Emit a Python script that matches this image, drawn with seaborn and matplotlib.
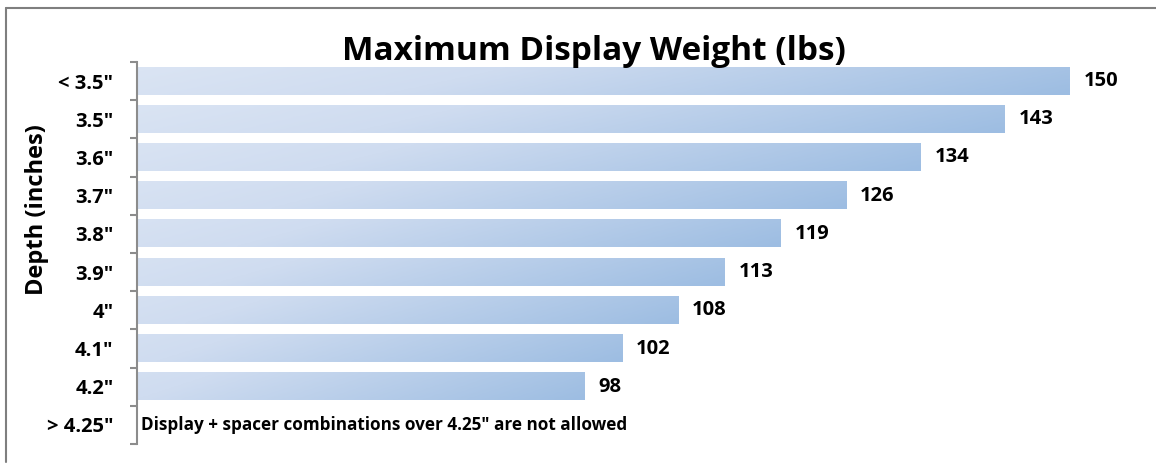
import matplotlib.pyplot as plt
import matplotlib.colors as mcolors
from matplotlib.lines import Line2D
import numpy as np
import pandas as pd
import seaborn as sns

depths = ['< 3.5"', '3.5"', '3.6"', '3.7"', '3.8"', '3.9"', '4"', '4.1"', '4.2"', '> 4.25"']
weights = [150, 143, 134, 126, 119, 113, 108, 102, 98]
note = 'Display + spacer combinations over 4.25" are not allowed'

df = pd.DataFrame({'Depth': depths[:len(weights)], 'Weight': weights})

sns.set_style('white')
plt.rcParams['font.family'] = ['Open Sans', 'DejaVu Sans']
plt.rcParams['font.weight'] = 'bold'

fig = plt.figure(figsize=(11.56, 4.66), dpi=100)
ax = fig.add_axes([137 / 1156, 22 / 466, 1003 / 1156, 382 / 466])

sns.barplot(data=df, y='Depth', x='Weight', order=depths, orient='h',
            width=0.71, color='#c5d6ee', ax=ax)

# gradient fill per bar (light on the left, darker toward the bar end)
cmap = mcolors.LinearSegmentedColormap.from_list(
    'g', [(0, '#e9eff8'), (0.55, '#cfdcf0'), (1, '#9dbde2')])
gx = np.linspace(0, 1, 256)
gy = np.linspace(0, 1, 16)
grad = 0.92 * gx[None, :] + 0.08 * gy[:, None]
for p in ax.patches:
    x0, y0 = p.get_x(), p.get_y()
    w, h = p.get_width(), p.get_height()
    if not np.isfinite(w) or w <= 0:
        continue
    ax.imshow(grad, cmap=cmap, extent=[x0, x0 + w, y0 + h, y0], aspect='auto',
              interpolation='bilinear', zorder=2)
    p.set_visible(False)
    ax.annotate(f'{int(round(w))}', xy=(x0 + w, y0 + h / 2), xytext=(10, 0),
                textcoords='offset points', ha='left', va='center',
                fontsize=14.5, fontweight='bold', color='black')

ax.set_xlim(50, 50 + 1003 / 9.33)
ax.set_ylim(len(depths) - 0.5, -0.5)

ax.annotate(note, xy=(50, len(depths) - 1), xytext=(3, 0), textcoords='offset points',
            ha='left', va='center', fontsize=12.3, fontweight='bold', color='black')

for s in ['top', 'right', 'bottom']:
    ax.spines[s].set_visible(False)
ax.spines['left'].set_color('#8c8c8c')
ax.spines['left'].set_linewidth(1.5)
ax.set_xticks([])
ax.set_yticks(np.arange(-0.5, len(depths), 1), minor=True)
ax.tick_params(axis='y', which='minor', length=5, width=1.5, color='#8c8c8c', left=True)
ax.tick_params(axis='y', which='major', length=0, pad=17, labelsize=14.5, labelcolor='black')
for lbl in ax.get_yticklabels():
    lbl.set_fontweight('bold')
ax.set_xlabel('')
ax.set_ylabel('')

fig.text(37 / 1156, 256 / 466, 'Depth (inches)', rotation=90, ha='center', va='center',
         fontsize=17, fontweight='bold', color='black')
fig.text(594 / 1156, 414 / 466, 'Maximum Display Weight (lbs)', ha='center', va='center',
         fontsize=24, fontweight='bold', color='black')

# partial chart border
fig.add_artist(Line2D([6 / 1156, 6 / 1156], [4 / 466, 458 / 466], color='#7f7f7f', lw=1.5))
fig.add_artist(Line2D([6 / 1156, 1], [458 / 466, 458 / 466], color='#7f7f7f', lw=1.5))

fig.savefig('out.png', dpi=100)
